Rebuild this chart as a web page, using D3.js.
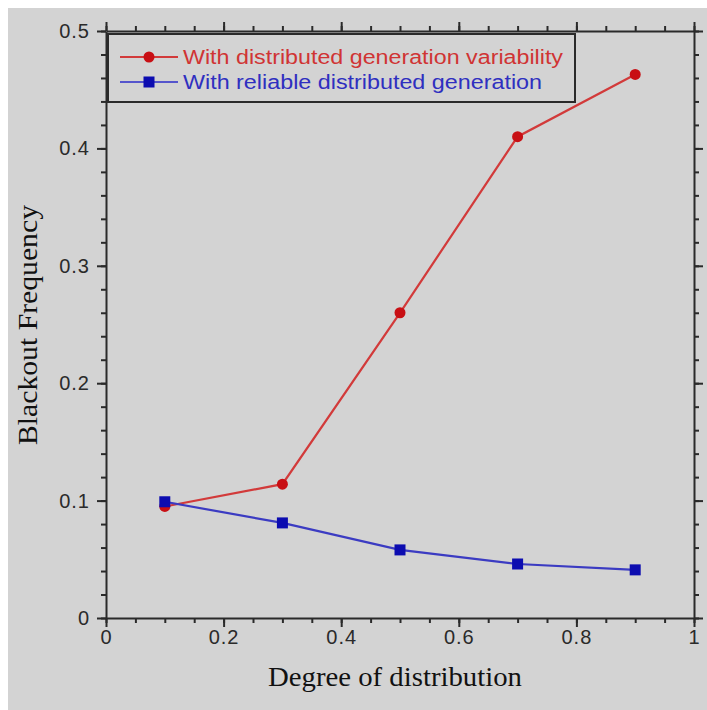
<!DOCTYPE html>
<html>
<head>
<meta charset="utf-8">
<script src="https://cdn.jsdelivr.net/npm/d3@7"></script>
<style>
  html, body { margin: 0; padding: 0; background: #ffffff; }
  svg { display: block; }
</style>
</head>
<body>
<div id="chart"></div>
<script>
  // Data
  var degrees     = [0.1, 0.3, 0.5, 0.7, 0.9];
  var variability = [0.095, 0.114, 0.26, 0.41, 0.463];
  var reliable    = [0.099, 0.081, 0.058, 0.046, 0.041];
  var seriesNames = ["With distributed generation variability", "With reliable distributed generation"];
  var xTicks      = [0, 0.2, 0.4, 0.6, 0.8, 1];
  var yTicks      = [0, 0.1, 0.2, 0.3, 0.4, 0.5];

  // Sizes
  var W = 707, H = 710;
  var margin = { left: 106, top: 31, right: 13, bottom: 92 };
  var width  = W - margin.left - margin.right;
  var height = H - margin.top - margin.bottom;

  var svg = d3.select("#chart").append("svg").attr("width", W).attr("height", H);

  // Gray panel
  svg.append("rect").attr("x", 8).attr("y", 8).attr("width", W - 8).attr("height", H - 8).attr("fill", "#d3d3d3");

  var g = svg.append("g").attr("transform", "translate(" + margin.left + "," + margin.top + ")");

  // Scales
  var x = d3.scaleLinear().domain([0, 1]).range([0, width]);
  var y = d3.scaleLinear().domain([0, 0.5]).range([height, 0]);

  var xMinor = d3.range(0, 1.0001, 0.05);
  var yMinor = d3.range(0, 0.5001, 0.02);

  // Axis helper: minor ticks then major ticks
  var drawAxis = function(axisFn, scale, minor, major, tr, showLabels) {
    var gm = g.append("g").attr("class", "minor").attr("transform", tr)
      .call(axisFn(scale).tickValues(minor).tickSize(5).tickFormat(""));
    gm.select(".domain").remove();
    var ga = g.append("g").attr("class", "major").attr("transform", tr)
      .call(axisFn(scale).tickValues(major).tickSize(9).tickSizeOuter(0)
        .tickFormat(showLabels ? function(d) { return d3.format("")(+d.toFixed(1)); } : ""));
    [gm, ga].forEach(function(s) {
      s.selectAll("line").attr("stroke", "#2a2a2a").attr("stroke-width", 2);
      s.selectAll("path").attr("stroke", "#2a2a2a").attr("stroke-width", 2);
    });
    ga.selectAll("text")
      .attr("font-family", "Liberation Sans, Arial, sans-serif")
      .attr("font-size", 20)
      .attr("letter-spacing", 1)
      .attr("fill", "#2a2a2a");
    return ga;
  };

  drawAxis(d3.axisBottom, x, xMinor, xTicks, "translate(0," + height + ")", true);
  drawAxis(d3.axisTop, x, xMinor, xTicks, "translate(0,0)", false);
  var yl = drawAxis(d3.axisLeft, y, yMinor, yTicks, "translate(0,0)", true);
  yl.selectAll("text").attr("x", -16);
  drawAxis(d3.axisRight, y, yMinor, yTicks, "translate(" + width + ",0)", false);

  // Axis titles
  svg.append("text")
    .attr("x", 268)
    .attr("y", 686)
    .attr("font-family", "Liberation Serif, Times New Roman, serif")
    .attr("font-size", 27)
    .attr("textLength", 254)
    .attr("lengthAdjust", "spacingAndGlyphs")
    .attr("fill", "#111")
    .text("Degree of distribution");

  svg.append("text")
    .attr("transform", "translate(37,445) rotate(-90)")
    .attr("font-family", "Liberation Serif, Times New Roman, serif")
    .attr("font-size", 27)
    .attr("textLength", 240)
    .attr("lengthAdjust", "spacingAndGlyphs")
    .attr("fill", "#111")
    .text("Blackout Frequency");

  // Lines
  var line = d3.line()
    .x(function(d) { return x(d[0]); })
    .y(function(d) { return y(d[1]); });

  var redPts  = degrees.map(function(d, i) { return [d, variability[i]]; });
  var bluePts = degrees.map(function(d, i) { return [d, reliable[i]]; });

  g.append("path").datum(redPts).attr("d", line)
    .attr("fill", "none").attr("stroke", "#d23a3a").attr("stroke-width", 2.2);
  g.selectAll("circle.red").data(redPts).enter().append("circle").attr("class", "red")
    .attr("cx", function(d) { return x(d[0]); })
    .attr("cy", function(d) { return y(d[1]); })
    .attr("r", 5.5).attr("fill", "#c80f14");

  g.append("path").datum(bluePts).attr("d", line)
    .attr("fill", "none").attr("stroke", "#3b3bc2").attr("stroke-width", 2.2);
  g.selectAll("rect.blue").data(bluePts).enter().append("rect").attr("class", "blue")
    .attr("x", function(d) { return x(d[0]) - 5.5; })
    .attr("y", function(d) { return y(d[1]) - 5.5; })
    .attr("width", 11).attr("height", 11).attr("fill", "#0c0cb0");

  // Legend
  var legend = svg.append("g");
  legend.append("rect")
    .attr("x", 108).attr("y", 34).attr("width", 467).attr("height", 68)
    .attr("fill", "none").attr("stroke", "#2a2a2a").attr("stroke-width", 2);

  var legendItems = [
    { name: seriesNames[0], color: "#d23a3a", mark: "#c80f14", text: "#d03434", shape: "circle", y: 57, len: 380 },
    { name: seriesNames[1], color: "#5555cc", mark: "#0c0cb0", text: "#2f2fc0", shape: "square", y: 82, len: 359 }
  ];

  legendItems.forEach(function(d) {
    legend.append("line").attr("x1", 120).attr("x2", 178).attr("y1", d.y).attr("y2", d.y)
      .attr("stroke", d.color).attr("stroke-width", 2.2);
    if (d.shape === "circle") {
      legend.append("circle").attr("cx", 149).attr("cy", d.y).attr("r", 5.5).attr("fill", d.mark);
    } else {
      legend.append("rect").attr("x", 143.5).attr("y", d.y - 5.5).attr("width", 11).attr("height", 11).attr("fill", d.mark);
    }
    legend.append("text")
      .attr("x", 183).attr("y", d.y + 7)
      .attr("font-family", "Liberation Sans, Arial, sans-serif")
      .attr("font-size", 20)
      .attr("textLength", d.len)
      .attr("lengthAdjust", "spacingAndGlyphs")
      .attr("fill", d.text)
      .text(d.name);
  });
</script>
</body>
</html>
